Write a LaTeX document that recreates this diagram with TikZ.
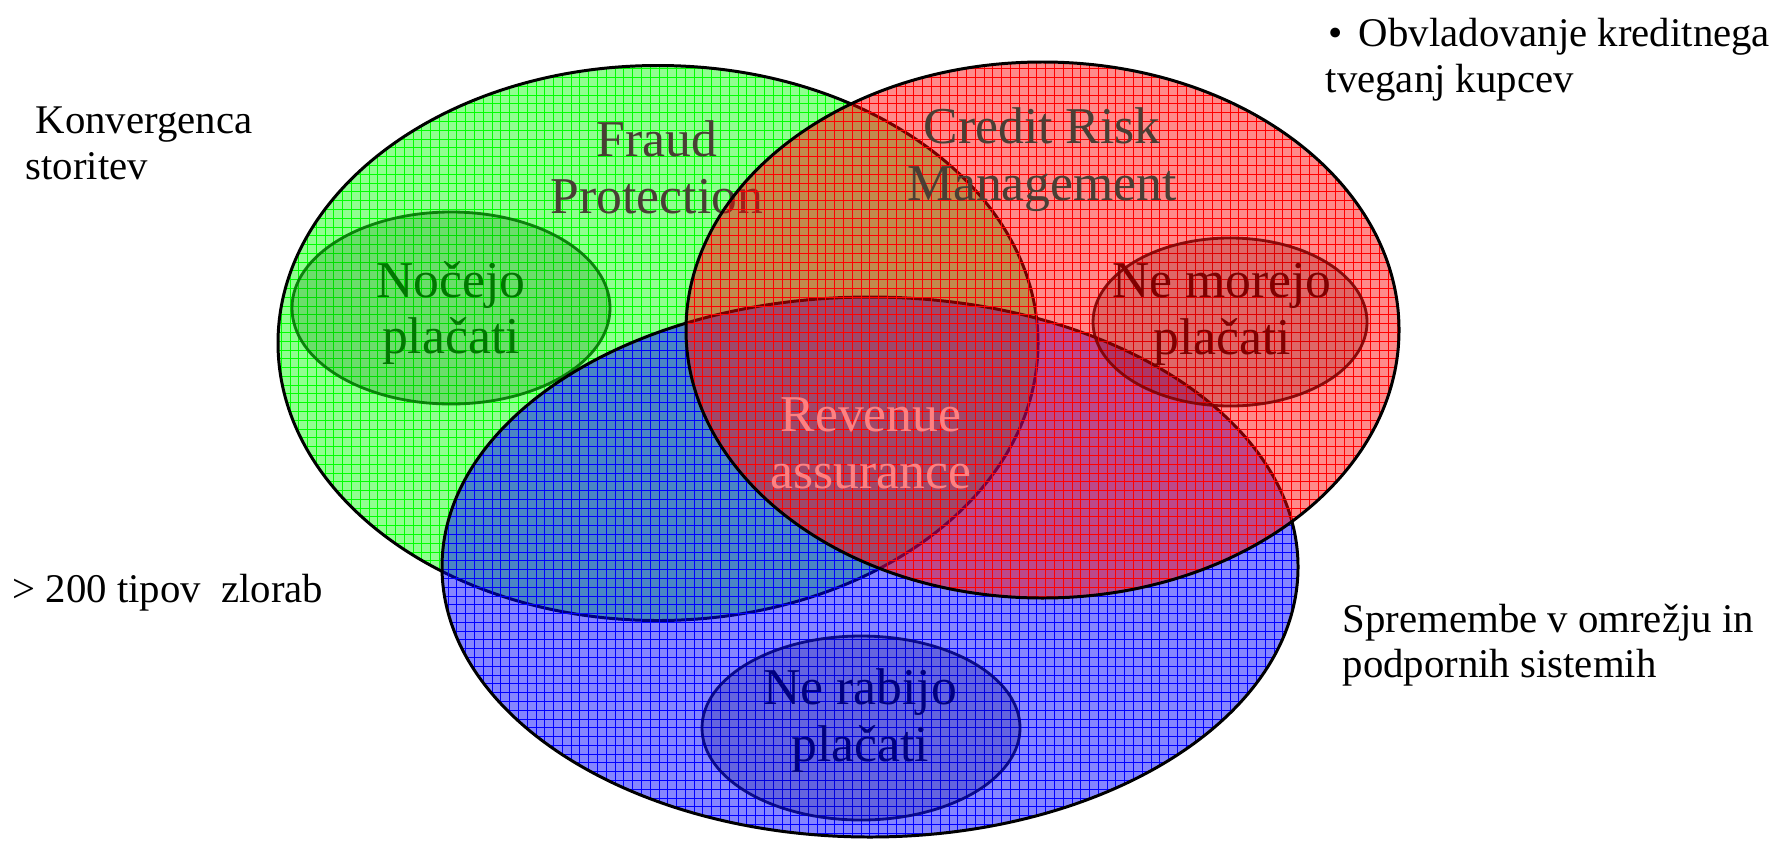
\documentclass[tikz,border=0pt]{standalone}
\usepackage{fontspec}
\setmainfont{Liberation Serif}
\usepackage{tikz}
\usetikzlibrary{patterns}

% fine grid pattern used on the three sets
\pgfdeclarepatternformonly{finegrid}{\pgfqpoint{-1pt}{-1pt}}{\pgfqpoint{3.5pt}{3.5pt}}{\pgfqpoint{2.5pt}{2.5pt}}{%
    \pgfsetlinewidth{0.25pt}
    \pgfpathmoveto{\pgfqpoint{0pt}{0pt}}
    \pgfpathlineto{\pgfqpoint{0pt}{2.51pt}}
    \pgfpathmoveto{\pgfqpoint{0pt}{0pt}}
    \pgfpathlineto{\pgfqpoint{2.51pt}{0pt}}
    \pgfusepath{stroke}}

\definecolor{labelbrown}{RGB}{73,62,52}
\definecolor{darkgreen}{RGB}{0,120,0}
\definecolor{darkred}{RGB}{128,0,0}
\definecolor{darkblue}{RGB}{0,0,128}
\definecolor{revpink}{RGB}{255,128,128}

\tikzset{
    setline/.style={line width=0.85pt},
    subline/.style={line width=0.8pt, fill opacity=0.25, draw opacity=0.9},
    setlabel/.style={font=\fontsize{14.7}{16.2}\selectfont, align=center, inner sep=0pt},
    sidelabel/.style={font=\fontsize{11.6}{13}\selectfont, align=left, inner sep=0pt, anchor=west},
}

\begin{document}
\begin{tikzpicture}[x=0.1mm, y=-0.1mm]
    \useasboundingbox (0,0) rectangle (1769,842);

    \coordinate (FP) at (658,343);
    \coordinate (CR) at (1042.5,330);
    \coordinate (SP) at (870,567);
    \coordinate (NC) at (451,308);
    \coordinate (NM) at (1230,322);
    \coordinate (NR) at (861,728);

    % Fraud Protection
    \fill[green, fill opacity=0.44] (FP) ellipse [x radius=380, y radius=277.5];
    \fill[pattern=finegrid, pattern color=green, fill opacity=0.6] (FP) ellipse [x radius=380, y radius=277.5];
    \draw[setline] (FP) ellipse [x radius=380, y radius=277.5];
    \node[setlabel, text=labelbrown] (fraud) at (657,167) {Fraud\\Protection};

    % Nocejo placati
    \filldraw[subline, draw=darkgreen, fill=darkgreen] (NC) ellipse [x radius=159, y radius=96];
    \node[setlabel, text=darkgreen] (nocejo) at (451,313) {Nočejo\\plačati};

    % Spremembe (blue set)
    \fill[blue, fill opacity=0.48] (SP) ellipse [x radius=428, y radius=270];
    \fill[pattern=finegrid, pattern color=blue, fill opacity=0.6] (SP) ellipse [x radius=428, y radius=270];
    \draw[setline] (SP) ellipse [x radius=428, y radius=270];

    % Ne rabijo placati
    \filldraw[subline, draw=darkblue, fill=darkblue] (NR) ellipse [x radius=159, y radius=92];
    \node[setlabel, text=darkblue] (nerabijo) at (860,721) {Ne rabijo\\plačati};

    % Credit Risk Management
    \fill[red, fill opacity=0.46] (CR) ellipse [x radius=356.5, y radius=268];
    \fill[pattern=finegrid, pattern color=red, fill opacity=0.6] (CR) ellipse [x radius=356.5, y radius=268];
    \draw[setline] (CR) ellipse [x radius=356.5, y radius=268];
    \node[setlabel, text=labelbrown] (credit) at (1042,160) {Credit Risk\\Management};

    % Revenue assurance
    \node[setlabel, text=revpink] (revenue) at (871,443) {Revenue\\assurance};

    % Ne morejo placati
    \filldraw[subline, draw=darkred, fill=darkred] (NM) ellipse [x radius=137, y radius=84];
    \node[setlabel, text=darkred] (nemorejo) at (1222,314) {Ne morejo\\plačati};

    % side notes
    \node[sidelabel] (konv) at (25,143.5) {\hspace*{1mm}Konvergenca\\storitev};
    \node[sidelabel] (obvl) at (1325,59.5) {\hspace*{0.3mm}•\hspace{1.6mm}Obvladovanje kreditnega\\tveganj kupcev};
    \node[sidelabel, anchor=base west] (zlorab) at (12,602) {> 200 tipov\ \ zlorab};
    \node[sidelabel] (sprem) at (1342,645) {Spremembe v omrežju in\\podpornih sistemih};
\end{tikzpicture}
\end{document}
